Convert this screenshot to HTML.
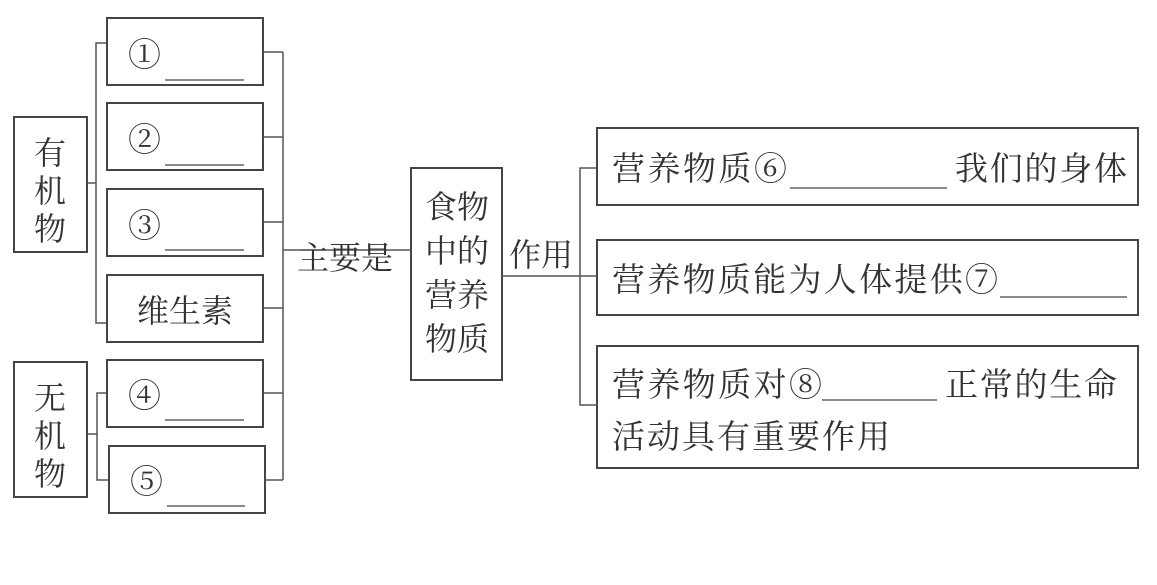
<!DOCTYPE html>
<html><head><meta charset="utf-8"><style>
html,body{margin:0;padding:0;background:#fff;}
svg text{font-family:"Noto Serif CJK SC","Noto Sans CJK SC",serif;fill:#333;}
</style></head><body>
<svg width="1157" height="580" xmlns="http://www.w3.org/2000/svg">
<g fill="none" stroke="#444" stroke-width="2">
<rect x="14" y="117" width="73" height="135"/>
<rect x="14" y="362" width="73" height="135"/>
<rect x="107" y="18" width="156" height="67"/>
<rect x="107" y="103" width="156" height="67"/>
<rect x="107" y="189" width="156" height="67"/>
<rect x="107" y="275" width="156" height="67"/>
<rect x="107" y="360" width="156" height="67"/>
<rect x="109" y="446" width="156" height="67"/>
<rect x="411" y="168" width="91" height="212"/>
<rect x="597" y="128" width="541" height="77"/>
<rect x="597" y="240" width="541" height="75"/>
<rect x="597" y="346" width="541" height="122"/>
</g>
<g fill="none" stroke="#555" stroke-width="1.5">
<path d="M87 183H96M107 43H96V323H107"/>
<path d="M87 434H97M107 393H97V480H109"/>
<path d="M263 52H283M263 137H283M263 222H283M263 308H283M263 393H283M265 480H283M283 52V480M283 250H411"/>
<path d="M502 276H580M597 168H580V405H597M580 276H597"/>
</g>
<g font-size="32" text-anchor="middle">
<text x="50" y="164">有</text><text x="50" y="202">机</text><text x="50" y="240">物</text>
<text x="50" y="409">无</text><text x="50" y="447">机</text><text x="50" y="485">物</text>
<text x="185" y="322">维生素</text>
<text x="345" y="269">主要是</text>
<text x="541" y="266">作用</text>
<text x="457" y="218">食物</text><text x="457" y="262">中的</text><text x="457" y="306">营养</text><text x="457" y="350">物质</text>
</g>
<g font-size="33">
<text x="128" y="66" textLength="32">①</text><text x="128" y="151" textLength="32">②</text><text x="128" y="237" textLength="32">③</text><text x="128" y="407" textLength="32">④</text><text x="130" y="493" textLength="32">⑤</text>
<text x="612" y="180" textLength="175">营养物质⑥</text><text x="955" y="180" textLength="172">我们的身体</text>
<text x="612" y="291" textLength="386">营养物质能为人体提供⑦</text>
<text x="612" y="396" textLength="210">营养物质对⑧</text><text x="945" y="396" textLength="172">正常的生命</text>
<text x="612" y="448" textLength="278">活动具有重要作用</text>
</g>
<g stroke="#444" stroke-width="1.2">
<path d="M165 80H244M165 165H244M165 250H244M165 420H244M167 506H245"/>
<path d="M790 188H947M1000 297H1127M822 400H937"/>
</g>
</svg>
</body></html>
